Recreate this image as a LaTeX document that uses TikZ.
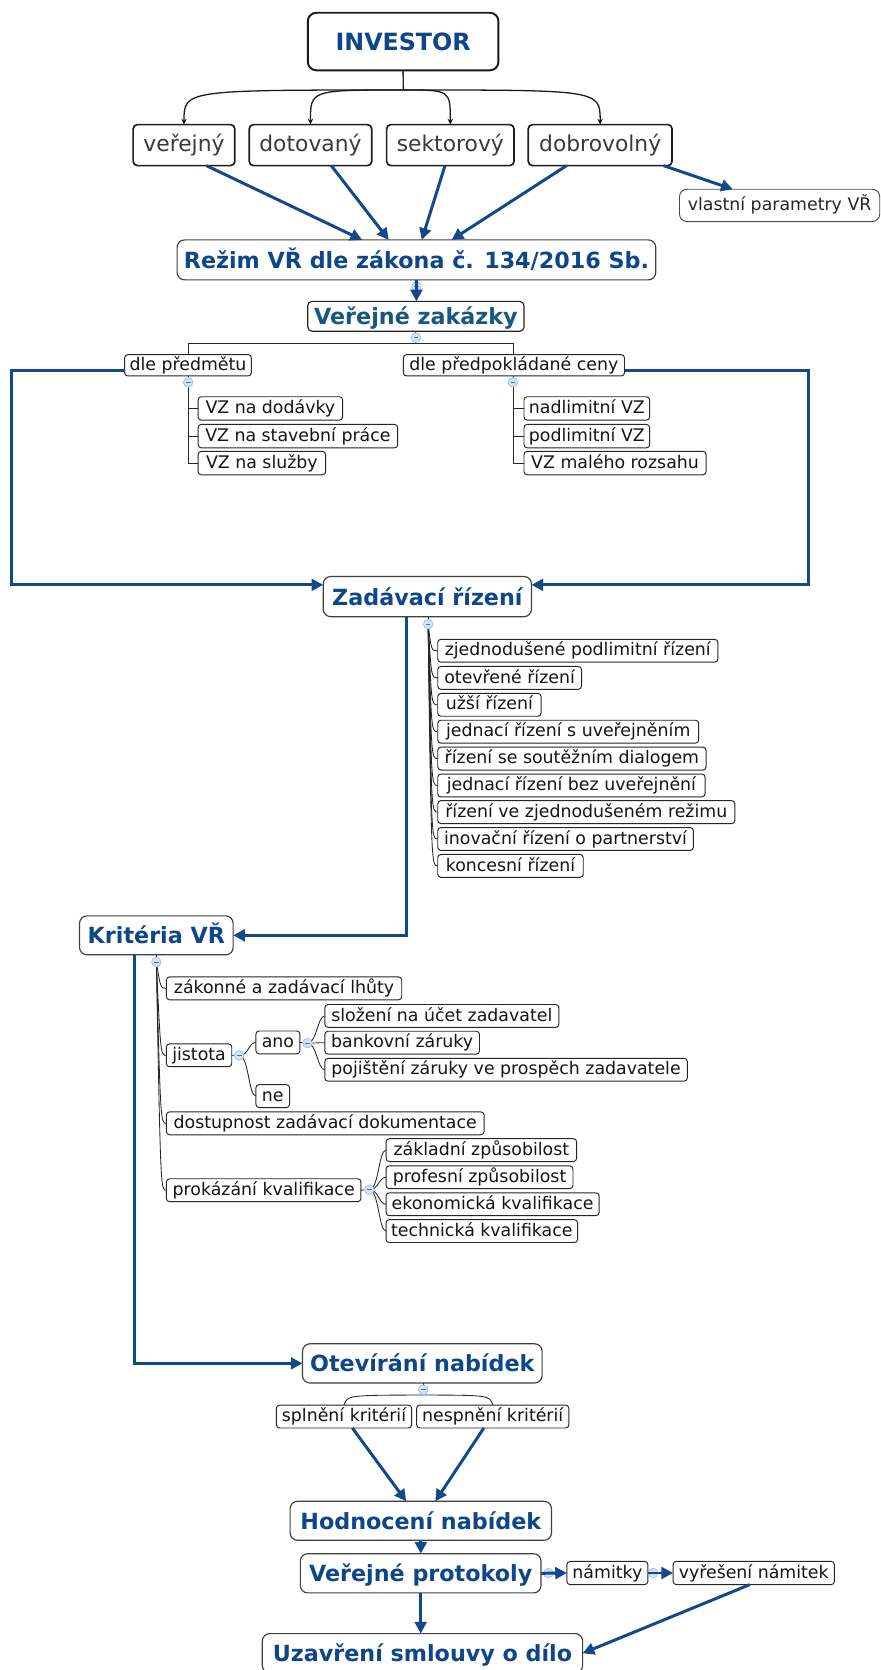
\documentclass[tikz,border=0pt]{standalone}
\usepackage{fontspec}
\setmainfont{DejaVu Sans}
\usetikzlibrary{arrows.meta,calc}
\definecolor{tblue}{RGB}{14,70,138}
\definecolor{tteal}{RGB}{22,88,128}
\definecolor{lblue}{RGB}{18,72,140}
\definecolor{cfill}{RGB}{212,226,246}
\definecolor{cdraw}{RGB}{158,188,228}
\definecolor{gtext}{RGB}{58,58,58}
\begin{document}
\begin{tikzpicture}[x=1pt,y=-1pt,
  nd/.style={rectangle, inner sep=0pt, outer sep=0pt},
  smallbox/.style={nd, draw=black!85, line width=0.9pt, rounded corners=3pt, minimum height=21.5pt,
    font=\fontsize{16.3}{18}\selectfont, text=black!92, text height=11.9pt, text depth=2.3pt},
  kidbox/.style={nd, draw=black!88, line width=1.6pt, rounded corners=4pt, minimum height=38.5pt,
    font=\fontsize{20.5}{23}\selectfont, text=gtext, text height=12.3pt, text depth=0pt},
  titlebox/.style={nd, draw=black!75, line width=1.1pt, rounded corners=7pt, minimum height=36.8pt,
    font=\fontsize{20.9}{24}\selectfont\bfseries, text=tblue, text height=16pt, text depth=0pt},
  invbox/.style={nd, draw=black!90, line width=1.8pt, rounded corners=8pt,
    font=\fontsize{22.3}{25}\selectfont\bfseries, text=tblue, text height=17.2pt, text depth=0pt},
  coll/.style={circle, draw=cdraw, fill=cfill, line width=0.6pt, minimum size=9pt, inner sep=0pt,
    path picture={\draw[cdraw!60!black, line width=0.6pt] ([xshift=-2.2pt]path picture bounding box.center) -- ([xshift=2.2pt]path picture bounding box.center);}},
  treeline/.style={draw=black!85, line width=0.8pt},
  barrow/.style={draw=lblue, line width=2.8pt, -{Triangle[length=11pt,width=11pt]}},
  karrow/.style={draw=black!90, line width=1.2pt, -{Stealth[length=5.5pt,width=5pt]}}
]
\useasboundingbox (0,0) rectangle (827,1568);
\fill[white] (0,0) rectangle (827,1568);
\clip (0,0) rectangle (827,1568);

% ---------- nodes ----------
\node[invbox, minimum width=179pt, minimum height=54pt] (inv) at (378.5,39) {INVESTOR};
\node[kidbox, minimum width=95.5pt] (ver) at (172.75,136.25) {veřejný};
\node[kidbox, minimum width=115pt] (dot) at (291.5,136.25) {dotovaný};
\node[kidbox, minimum width=119.6pt] (sek) at (422.8,136.25) {sektorový};
\node[kidbox, minimum width=135pt] (dob) at (563.5,136.25) {dobrovolný};
\node[smallbox, minimum width=188pt, minimum height=30.3pt, rounded corners=7pt, draw=black!70, text=black!85] (vla) at (732,192.85) {vlastní parametry VŘ};
\node[titlebox, minimum width=449.4pt, minimum height=37.5pt] (rez) at (391,244) {Režim VŘ dle zákona č. 134/2016 Sb.};
\node[titlebox, text=tteal, draw=black!85, rounded corners=4pt, minimum width=203pt, minimum height=28pt] (vz) at (390.5,297) {Veřejné zakázky};

\node[smallbox, minimum width=119pt, minimum height=20pt] (dp) at (176.5,343) {dle předmětu};
\node[smallbox, minimum width=207.7pt, minimum height=20pt] (dc) at (482.5,343) {dle předpokládané ceny};
\node[smallbox, minimum width=135.7pt, minimum height=22pt] (dod) at (253.85,383.5) {VZ na dodávky};
\node[smallbox, minimum width=187.4pt, minimum height=22pt] (sta) at (279.7,409.5) {VZ na stavební práce};
\node[smallbox, minimum width=119.8pt, minimum height=22pt] (slu) at (245.9,434.8) {VZ na služby};
\node[smallbox, minimum width=118pt, minimum height=22pt] (nad) at (551,383.5) {nadlimitní VZ};
\node[smallbox, minimum width=118pt, minimum height=22pt] (pod) at (551,409.5) {podlimitní VZ};
\node[smallbox, minimum width=171pt, minimum height=22pt] (mal) at (577.5,434.8) {VZ malého rozsahu};

\node[titlebox, minimum width=195.5pt, minimum height=37.7pt] (zr) at (401.25,560.15) {Zadávací řízení};
\node[smallbox, minimum width=263pt] (z1) at (542.5,611) {zjednodušené podlimitní řízení};
\node[smallbox, minimum width=135pt] (z2) at (478.5,636.5) {otevřené řízení};
\node[smallbox, minimum width=97pt] (z3) at (459.5,661.75) {užší řízení};
\node[smallbox, minimum width=245pt] (z4) at (533.5,687) {jednací řízení s uveřejněním};
\node[smallbox, minimum width=252pt] (z5) at (537,712.25) {řízení se soutěžním dialogem};
\node[smallbox, minimum width=251pt] (z6) at (536.5,737.5) {jednací řízení bez uveřejnění};
\node[smallbox, minimum width=279pt] (z7) at (550.5,762.5) {řízení ve zjednodušeném režimu};
\node[smallbox, minimum width=240pt] (z8) at (531,787.75) {inovační řízení o partnerství};
\node[smallbox, minimum width=136.6pt] (z9) at (479.3,813) {koncesní řízení};

\node[titlebox, minimum width=144.2pt, minimum height=36.6pt] (kr) at (146.8,878.2) {Kritéria VŘ};
\node[smallbox, minimum width=221pt] (zak) at (266.7,928) {zákonné a zadávací lhůty};
\node[smallbox, minimum width=61.4pt] (jis) at (186.9,990.8) {jistota};
\node[smallbox, minimum width=41.3pt] (ano) at (260.95,978.75) {ano};
\node[smallbox, minimum width=31.6pt] (ne) at (256.1,1029.15) {ne};
\node[smallbox, minimum width=219.7pt] (slo) at (414.85,953.9) {složení na účet zadavatel};
\node[smallbox, minimum width=145.2pt] (ban) at (377.6,979) {bankovní záruky};
\node[smallbox, minimum width=340.3pt] (poj) at (475.15,1004.4) {pojištění záruky ve prospěch zadavatele};
\node[smallbox, minimum width=298.3pt] (dos) at (305.35,1054.7) {dostupnost zadávací dokumentace};
\node[smallbox, minimum width=182.7pt] (pro) at (247.55,1117.5) {prokázání kvalifikace};
\node[smallbox, minimum width=178.9pt] (zak2) at (451.95,1079.85) {základní způsobilost};
\node[smallbox, minimum width=175.5pt] (prof) at (450.25,1105.35) {profesní způsobilost};
\node[smallbox, minimum width=200pt] (eko) at (462.5,1130.7) {ekonomická kvalifikace};
\node[smallbox, minimum width=179.8pt] (tech) at (452.4,1155.85) {technická kvalifikace};

\node[titlebox, minimum width=225pt, minimum height=36.8pt] (ot) at (396.5,1280.1) {Otevírání nabídek};
\node[smallbox, minimum width=127pt] (spl) at (323,1330) {splnění kritérií};
\node[smallbox, minimum width=142.9pt] (nes) at (462.65,1330) {nespnění kritérií};
\node[titlebox, minimum width=245.4pt, minimum height=36.6pt] (hod) at (395.1,1427.9) {Hodnocení nabídek};
\node[titlebox, minimum width=226pt, minimum height=36.8pt] (vp) at (395,1477.2) {Veřejné protokoly};
\node[smallbox, minimum width=76pt, minimum height=21.8pt] (nam) at (570.3,1476.9) {námitky};
\node[smallbox, minimum width=151.4pt, minimum height=21.8pt] (vyr) at (707.7,1476.9) {vyřešení námitek};
\node[titlebox, minimum width=300.7pt, minimum height=37pt] (uz) at (396.65,1552.3) {Uzavření smlouvy o dílo};

% ---------- collapse points ----------
\coordinate (crez) at (391,269);
\coordinate (cvz) at (390.5,317);
\coordinate (cdp) at (176.7,359);
\coordinate (cdc) at (481.6,359);
\coordinate (czr) at (402,586);
\coordinate (ckr) at (146.8,903.3);
\coordinate (cjis) at (224.6,991);
\coordinate (cano) at (288.6,979.4);
\coordinate (cpro) at (346.7,1117);
\coordinate (cot) at (397.4,1304.8);
\coordinate (cvp) at (515,1476.9);
\coordinate (cnam) at (613.2,1476.9);

% ---------- tree lines ----------
\coordinate (hub) at (378.7,84.5);
\draw[treeline, line width=1.3pt] (inv.south) -- (hub);
\foreach \k in {ver,dot,sek,dob} \draw[karrow] (hub) .. controls (\k.north |- hub) .. (\k.north);

\coordinate (vzbar) at (390.5,322);
\draw[treeline] (vz.south) -- (cvz) -- (vzbar);
\draw[treeline] (dp.north) |- (vzbar);
\draw[treeline] (dc.north) |- (vzbar);

\draw[treeline] (dp.south -| cdp) -- (cdp);
\foreach \k in {dod,sta,slu} \draw[treeline] (cdp) |- (\k.west);
\draw[treeline] (dc.south -| cdc) -- (cdc);
\foreach \k in {nad,pod,mal} \draw[treeline] (cdc) |- (\k.west);

\draw[treeline] (zr.south -| czr) -- (czr);
\foreach \k in {z1,z2,z3,z4,z5,z6,z7,z8,z9}
  \draw[treeline] (czr) .. controls ($(czr |- \k.west)+(3,0)$) .. (\k.west);

\draw[treeline] (kr.south -| ckr) -- (ckr);
\foreach \k in {zak,jis,dos,pro}
  \draw[treeline] (ckr) .. controls ($(ckr |- \k.west)+(4,0)$) .. (\k.west);
\draw[treeline] (jis.east) -- (cjis);
\foreach \k in {ano,ne}
  \draw[treeline] (cjis) .. controls ($(cjis)+(9,0)$) and ($(\k.west)+(-7,0)$) .. (\k.west);
\draw[treeline] (ano.east) -- (cano);
\foreach \k in {slo,ban,poj}
  \draw[treeline] (cano) .. controls ($(cano)+(9,0)$) and ($(\k.west)+(-7,0)$) .. (\k.west);
\draw[treeline] (pro.east) -- (cpro);
\foreach \k in {zak2,prof,eko,tech}
  \draw[treeline] (cpro) .. controls ($(cpro)+(9,0)$) and ($(\k.west)+(-7,0)$) .. (\k.west);

\draw[treeline] (ot.south -| cot) -- (cot);
\draw[treeline] (spl.north) .. controls (326,1310) .. ($(cot)+(0,5)$);
\draw[treeline] (nes.north) .. controls (459.6,1310) .. ($(cot)+(0,5)$);

% ---------- collapse circles ----------
\foreach \c in {crez,cvz,cdp,cdc,czr,ckr,cjis,cano,cpro,cot,cvp,cnam}
  \node[coll] (k\c) at (\c) {};

% ---------- blue arrows ----------
\draw[barrow] ([xshift=21pt]ver.south) -- ([xshift=-51pt]rez.north);
\draw[barrow] ([xshift=19.5pt]dot.south) -- ([xshift=-26pt]rez.north);
\draw[barrow] ([xshift=-5pt]sek.south) -- ([xshift=5pt]rez.north);
\draw[barrow] ([xshift=-31.5pt]dob.south) -- ([xshift=33pt]rez.north);
\draw[barrow] ([xshift=-8pt]dob.south east) -- ([xshift=-44pt]vla.north);
\draw[barrow] (rez.south) -- (rez.south |- vz.north);

\coordinate (lf) at (11,450);
\coordinate (rf) at (759.5,450);
\draw[barrow] ([yshift=-5pt]dp.west) -| (lf) |- ([yshift=11pt]zr.west);
\draw[barrow] ([yshift=-5pt]dc.east) -| (rf) |- ([yshift=11pt]zr.east);
\draw[barrow] ([xshift=-20pt]zr.south) |- (kr.east);
\draw[barrow] ([xshift=-20.8pt]kr.south) |- (ot.west);

\draw[barrow] ([xshift=7.8pt]spl.south) -- ([xshift=-13.7pt]hod.north);
\draw[barrow] ([xshift=-8.35pt]nes.south) -- ([xshift=13.6pt]hod.north);
\draw[barrow] (hod.south) -- (hod.south |- vp.north);
\draw[barrow] (vp.east) -- (nam.west);
\draw[barrow] (nam.east) -- (vyr.west);
\draw[barrow] ([xshift=-3.7pt]vyr.south) -- (uz.east);
\draw[barrow] (vp.south) -- (vp.south |- uz.north);
\end{tikzpicture}
\end{document}
